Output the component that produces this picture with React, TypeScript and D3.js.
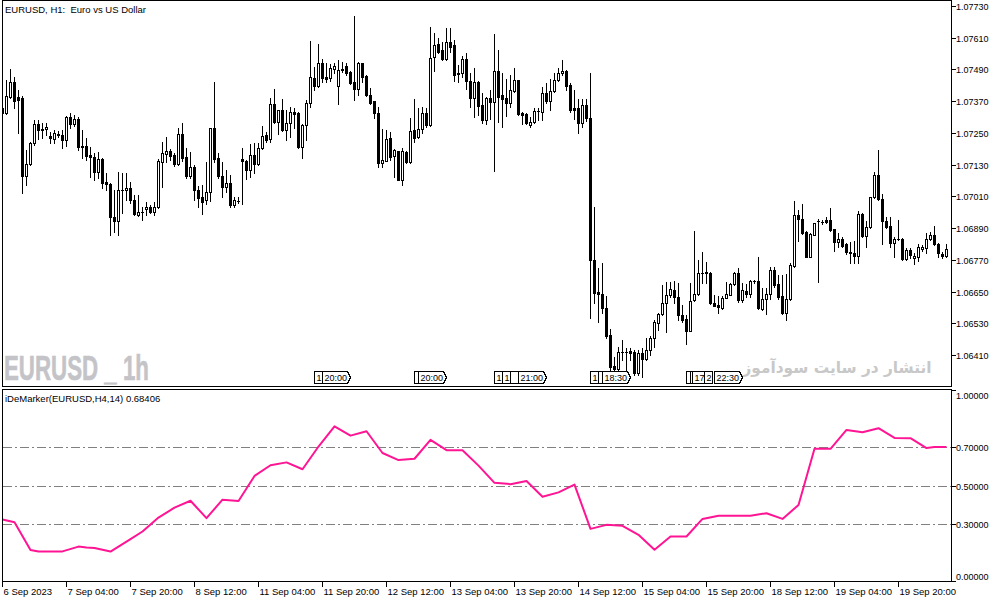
import { useRef, useEffect } from 'react';
import * as d3 from 'd3';

const W = 1003;
const H = 603;
const MAIN = { left: 2.5, right: 951.5, top: 0.5, bottom: 386.5 };
const SUB = { top: 389.5, bottom: 581.5 };
const FONT = "'Liberation Sans', Arial, sans-serif";

// EURUSD H1 candles, 6 Sep 12:00 .. 19 Sep 2023
const OPEN = [
  1.07326, 1.07326, 1.07387, 1.07443, 1.07387, 1.07383, 1.07087, 1.07133, 1.07213, 1.07284,
  1.07265, 1.07265, 1.07239, 1.07228, 1.07247, 1.07243, 1.07224, 1.07311, 1.07284, 1.07303,
  1.07198, 1.07201, 1.07167, 1.07160, 1.07102, 1.07152, 1.07065, 1.07058, 1.06933, 1.06917,
  1.07035, 1.07035, 1.07043, 1.06997, 1.06940, 1.06951, 1.06963, 1.06971, 1.06951, 1.06971,
  1.07140, 1.07171, 1.07182, 1.07167, 1.07133, 1.07247, 1.07160, 1.07087, 1.07122, 1.07035,
  1.07009, 1.06997, 1.07027, 1.07269, 1.07156, 1.07087, 1.07047, 1.07062, 1.06978, 1.06993,
  1.07152, 1.07144, 1.07110, 1.07167, 1.07133, 1.07194, 1.07243, 1.07228, 1.07360, 1.07291,
  1.07337, 1.07262, 1.07288, 1.07329, 1.07326, 1.07198, 1.07280, 1.07364, 1.07458, 1.07428,
  1.07515, 1.07462, 1.07458, 1.07492, 1.07428, 1.07492, 1.07503, 1.07480, 1.07443, 1.07417,
  1.07515, 1.07466, 1.07394, 1.07371, 1.07326, 1.07137, 1.07144, 1.07232, 1.07163, 1.07182,
  1.07073, 1.07178, 1.07140, 1.07262, 1.07236, 1.07265, 1.07326, 1.07280, 1.07538, 1.07587,
  1.07564, 1.07530, 1.07594, 1.07583, 1.07477, 1.07477, 1.07530, 1.07447, 1.07383, 1.07443,
  1.07356, 1.07299, 1.07383, 1.07368, 1.07484, 1.07394, 1.07383, 1.07364, 1.07409, 1.07451,
  1.07326, 1.07322, 1.07280, 1.07291, 1.07333, 1.07329, 1.07402, 1.07371, 1.07409, 1.07451,
  1.07477, 1.07484, 1.07432, 1.07345, 1.07345, 1.07288, 1.07356, 1.07307, 1.06770, 1.06649,
  1.06642, 1.06589, 1.06487, 1.06369, 1.06358, 1.06422, 1.06422, 1.06426, 1.06422, 1.06343,
  1.06419, 1.06396, 1.06430, 1.06476, 1.06532, 1.06566, 1.06608, 1.06638, 1.06657, 1.06631,
  1.06562, 1.06547, 1.06502, 1.06619, 1.06642, 1.06721, 1.06721, 1.06721, 1.06608, 1.06600,
  1.06589, 1.06627, 1.06638, 1.06680, 1.06721, 1.06619, 1.06653, 1.06642, 1.06691, 1.06691,
  1.06585, 1.06623, 1.06642, 1.06732, 1.06680, 1.06634, 1.06570, 1.06623, 1.06747, 1.06940,
  1.06925, 1.06876, 1.06782, 1.06865, 1.06917, 1.06913, 1.06921, 1.06921, 1.06887, 1.06838,
  1.06850, 1.06831, 1.06800, 1.06797, 1.06785, 1.06944, 1.06861, 1.06895, 1.07009, 1.07091,
  1.07001, 1.06917, 1.06899, 1.06835, 1.06850, 1.06850, 1.06774, 1.06808, 1.06778, 1.06782,
  1.06812, 1.06816, 1.06850, 1.06865, 1.06831, 1.06793, 1.06785,
];
const HIGH = [
  1.07356, 1.07451, 1.07492, 1.07462, 1.07413, 1.07390, 1.07186, 1.07216, 1.07299, 1.07299,
  1.07288, 1.07288, 1.07254, 1.07262, 1.07258, 1.07262, 1.07314, 1.07326, 1.07318, 1.07311,
  1.07262, 1.07232, 1.07198, 1.07175, 1.07178, 1.07156, 1.07099, 1.07062, 1.07035, 1.07102,
  1.07099, 1.07099, 1.07065, 1.07016, 1.07016, 1.06971, 1.06989, 1.06978, 1.06989, 1.07152,
  1.07216, 1.07236, 1.07190, 1.07175, 1.07269, 1.07288, 1.07194, 1.07178, 1.07129, 1.07050,
  1.07054, 1.07140, 1.07269, 1.07443, 1.07175, 1.07140, 1.07110, 1.07091, 1.07009, 1.07009,
  1.07194, 1.07148, 1.07209, 1.07213, 1.07213, 1.07276, 1.07254, 1.07383, 1.07417, 1.07337,
  1.07379, 1.07337, 1.07349, 1.07345, 1.07329, 1.07284, 1.07375, 1.07598, 1.07500, 1.07587,
  1.07530, 1.07515, 1.07511, 1.07515, 1.07526, 1.07518, 1.07515, 1.07484, 1.07692, 1.07518,
  1.07515, 1.07469, 1.07421, 1.07371, 1.07349, 1.07265, 1.07262, 1.07254, 1.07190, 1.07182,
  1.07194, 1.07182, 1.07307, 1.07379, 1.07345, 1.07349, 1.07345, 1.07651, 1.07629, 1.07610,
  1.07594, 1.07647, 1.07647, 1.07602, 1.07507, 1.07541, 1.07553, 1.07477, 1.07496, 1.07447,
  1.07402, 1.07387, 1.07413, 1.07625, 1.07564, 1.07477, 1.07454, 1.07469, 1.07496, 1.07451,
  1.07329, 1.07326, 1.07311, 1.07345, 1.07345, 1.07425, 1.07440, 1.07454, 1.07477, 1.07496,
  1.07526, 1.07488, 1.07440, 1.07413, 1.07379, 1.07379, 1.07379, 1.07477, 1.06971, 1.06740,
  1.06759, 1.06634, 1.06509, 1.06404, 1.06442, 1.06468, 1.06438, 1.06438, 1.06430, 1.06430,
  1.06438, 1.06476, 1.06480, 1.06543, 1.06570, 1.06676, 1.06687, 1.06687, 1.06691, 1.06684,
  1.06600, 1.06562, 1.06684, 1.06880, 1.06770, 1.06800, 1.06762, 1.06725, 1.06638, 1.06634,
  1.06634, 1.06687, 1.06684, 1.06725, 1.06740, 1.06684, 1.06680, 1.06695, 1.06695, 1.06782,
  1.06665, 1.06665, 1.06744, 1.06744, 1.06714, 1.06714, 1.06717, 1.06759, 1.06993, 1.06959,
  1.06982, 1.06880, 1.06873, 1.06910, 1.06925, 1.06921, 1.06933, 1.06967, 1.06887, 1.06873,
  1.06857, 1.06835, 1.06838, 1.06842, 1.06955, 1.06948, 1.06917, 1.07009, 1.07102, 1.07186,
  1.07020, 1.06933, 1.06933, 1.06857, 1.06921, 1.06853, 1.06816, 1.06816, 1.06797, 1.06831,
  1.06827, 1.06873, 1.06876, 1.06899, 1.06835, 1.06800, 1.06831,
];
const LOW = [
  1.07318, 1.07322, 1.07383, 1.07345, 1.07251, 1.07024, 1.07054, 1.07129, 1.07205, 1.07228,
  1.07232, 1.07243, 1.07213, 1.07213, 1.07236, 1.07194, 1.07201, 1.07269, 1.07276, 1.07186,
  1.07156, 1.07148, 1.07084, 1.07073, 1.07080, 1.07043, 1.07035, 1.06865, 1.06876, 1.06865,
  1.06948, 1.06997, 1.06986, 1.06940, 1.06936, 1.06921, 1.06940, 1.06948, 1.06940, 1.06967,
  1.07047, 1.07140, 1.07148, 1.07125, 1.07129, 1.07144, 1.07080, 1.07080, 1.06997, 1.06971,
  1.06944, 1.06982, 1.06993, 1.07140, 1.07080, 1.07009, 1.07027, 1.06971, 1.06971, 1.06986,
  1.06982, 1.07076, 1.07084, 1.07099, 1.07129, 1.07190, 1.07216, 1.07216, 1.07288, 1.07247,
  1.07258, 1.07224, 1.07236, 1.07269, 1.07194, 1.07156, 1.07224, 1.07349, 1.07413, 1.07425,
  1.07443, 1.07443, 1.07447, 1.07477, 1.07360, 1.07480, 1.07469, 1.07436, 1.07375, 1.07394,
  1.07443, 1.07390, 1.07360, 1.07307, 1.07122, 1.07122, 1.07144, 1.07148, 1.07084, 1.07073,
  1.07054, 1.07137, 1.07137, 1.07216, 1.07232, 1.07251, 1.07273, 1.07276, 1.07484, 1.07553,
  1.07526, 1.07526, 1.07556, 1.07447, 1.07443, 1.07462, 1.07417, 1.07349, 1.07311, 1.07318,
  1.07288, 1.07284, 1.07303, 1.07106, 1.07291, 1.07273, 1.07314, 1.07349, 1.07405, 1.07318,
  1.07284, 1.07284, 1.07273, 1.07288, 1.07299, 1.07299, 1.07364, 1.07337, 1.07405, 1.07447,
  1.07469, 1.07413, 1.07329, 1.07303, 1.07251, 1.07273, 1.07295, 1.06551, 1.06608, 1.06535,
  1.06570, 1.06476, 1.06346, 1.06346, 1.06354, 1.06392, 1.06354, 1.06392, 1.06335, 1.06335,
  1.06328, 1.06392, 1.06411, 1.06442, 1.06506, 1.06562, 1.06498, 1.06631, 1.06608, 1.06543,
  1.06535, 1.06453, 1.06502, 1.06615, 1.06638, 1.06684, 1.06684, 1.06604, 1.06596, 1.06570,
  1.06585, 1.06627, 1.06638, 1.06676, 1.06612, 1.06612, 1.06631, 1.06631, 1.06684, 1.06585,
  1.06581, 1.06566, 1.06623, 1.06668, 1.06623, 1.06566, 1.06543, 1.06619, 1.06744, 1.06842,
  1.06869, 1.06782, 1.06782, 1.06865, 1.06687, 1.06906, 1.06910, 1.06880, 1.06804, 1.06820,
  1.06820, 1.06793, 1.06759, 1.06759, 1.06759, 1.06857, 1.06820, 1.06891, 1.07005, 1.06997,
  1.06831, 1.06891, 1.06820, 1.06782, 1.06846, 1.06770, 1.06770, 1.06778, 1.06755, 1.06766,
  1.06804, 1.06797, 1.06846, 1.06827, 1.06782, 1.06778, 1.06782,
];
const CLOSE = [
  1.07345, 1.07390, 1.07443, 1.07371, 1.07375, 1.07087, 1.07133, 1.07213, 1.07284, 1.07262,
  1.07262, 1.07273, 1.07232, 1.07251, 1.07243, 1.07224, 1.07311, 1.07284, 1.07303, 1.07198,
  1.07201, 1.07163, 1.07160, 1.07102, 1.07152, 1.07062, 1.07058, 1.06933, 1.06917, 1.07035,
  1.07035, 1.07043, 1.06997, 1.06944, 1.06951, 1.06951, 1.06971, 1.06951, 1.06971, 1.07144,
  1.07175, 1.07182, 1.07163, 1.07133, 1.07247, 1.07156, 1.07087, 1.07122, 1.07035, 1.07005,
  1.06989, 1.07027, 1.07269, 1.07152, 1.07087, 1.07047, 1.07062, 1.06978, 1.06997, 1.06993,
  1.07144, 1.07110, 1.07167, 1.07133, 1.07194, 1.07239, 1.07224, 1.07360, 1.07291, 1.07337,
  1.07262, 1.07288, 1.07329, 1.07322, 1.07198, 1.07280, 1.07364, 1.07462, 1.07428, 1.07515,
  1.07458, 1.07454, 1.07496, 1.07503, 1.07488, 1.07488, 1.07477, 1.07440, 1.07417, 1.07515,
  1.07462, 1.07394, 1.07364, 1.07326, 1.07137, 1.07148, 1.07228, 1.07160, 1.07186, 1.07073,
  1.07182, 1.07140, 1.07258, 1.07232, 1.07265, 1.07326, 1.07280, 1.07534, 1.07583, 1.07556,
  1.07530, 1.07594, 1.07576, 1.07469, 1.07473, 1.07530, 1.07447, 1.07383, 1.07443, 1.07353,
  1.07299, 1.07383, 1.07368, 1.07484, 1.07387, 1.07379, 1.07364, 1.07413, 1.07451, 1.07322,
  1.07318, 1.07288, 1.07291, 1.07333, 1.07333, 1.07402, 1.07371, 1.07409, 1.07451, 1.07477,
  1.07484, 1.07428, 1.07337, 1.07337, 1.07288, 1.07356, 1.07307, 1.06770, 1.06646, 1.06642,
  1.06589, 1.06483, 1.06366, 1.06358, 1.06422, 1.06422, 1.06422, 1.06419, 1.06343, 1.06419,
  1.06396, 1.06430, 1.06476, 1.06535, 1.06566, 1.06608, 1.06638, 1.06661, 1.06631, 1.06562,
  1.06543, 1.06502, 1.06615, 1.06642, 1.06721, 1.06721, 1.06725, 1.06608, 1.06596, 1.06593,
  1.06627, 1.06642, 1.06680, 1.06721, 1.06619, 1.06657, 1.06642, 1.06691, 1.06691, 1.06589,
  1.06623, 1.06642, 1.06732, 1.06676, 1.06631, 1.06570, 1.06623, 1.06751, 1.06940, 1.06925,
  1.06873, 1.06782, 1.06869, 1.06910, 1.06917, 1.06913, 1.06913, 1.06884, 1.06838, 1.06850,
  1.06823, 1.06800, 1.06797, 1.06785, 1.06944, 1.06861, 1.06895, 1.07009, 1.07091, 1.07001,
  1.06917, 1.06895, 1.06835, 1.06850, 1.06850, 1.06774, 1.06808, 1.06789, 1.06785, 1.06820,
  1.06820, 1.06850, 1.06865, 1.06831, 1.06797, 1.06785, 1.06812,
];

// DeMarker (H4, 14) drawn on the H1 bars: bar index -> value
const DEM_BARS = [
  0, 3, 7, 9, 15, 19, 21, 23, 27, 32, 35, 39, 43, 47, 51, 55, 59, 63, 67, 71,
  75, 79, 83, 87, 91, 95, 99, 103, 107, 111, 115, 119, 123, 127, 131, 135, 139, 143, 147, 151,
  155, 159, 163, 167, 171, 175, 179, 187, 191, 195, 199, 203, 207, 211, 215, 219, 223, 227, 231, 233, 236,
];
const DEM_VALUES = [
  0.322, 0.308, 0.162, 0.155, 0.155, 0.180, 0.176, 0.173, 0.154, 0.219,
  0.259, 0.332, 0.384, 0.420, 0.329, 0.426, 0.419, 0.550, 0.606, 0.621,
  0.585, 0.704, 0.810, 0.761, 0.784, 0.670, 0.633, 0.640, 0.739, 0.685,
  0.685, 0.604, 0.514, 0.507, 0.524, 0.441, 0.464, 0.505, 0.273, 0.294,
  0.289, 0.242, 0.164, 0.233, 0.233, 0.325, 0.342, 0.342, 0.355, 0.325,
  0.398, 0.692, 0.692, 0.791, 0.779, 0.800, 0.749, 0.748, 0.696, 0.701, 0.701,
];

const PRICE_TICKS = [
  1.0773, 1.0761, 1.0749, 1.0737, 1.0725, 1.0713, 1.0701, 1.0689, 1.0677, 1.0665, 1.0653, 1.0641,
];
const DEM_TICKS = [1, 0.7, 0.5, 0.3, 0];
const DEM_LEVELS = [0.7, 0.5, 0.3];

const TIME_BARS = [0, 16, 32, 48, 64, 80, 96, 112, 128, 144, 160, 176, 192, 208, 224];
const TIME_LABELS = [
  '6 Sep 2023', '7 Sep 04:00', '7 Sep 20:00', '8 Sep 12:00', '11 Sep 04:00',
  '11 Sep 20:00', '12 Sep 12:00', '13 Sep 04:00', '13 Sep 20:00', '14 Sep 12:00',
  '15 Sep 04:00', '15 Sep 20:00', '18 Sep 12:00', '19 Sep 04:00', '19 Sep 20:00',
];

// small history labels along the bottom of the price window
// (an empty text is a label hidden under the next one)
const MARK_BARS = [78.5, 80.4, 103.45, 104.45, 123.45, 125.55, 127.5, 129.4, 147.4, 149.45, 150.55, 171.4, 172.4, 173.1, 175.9, 178.4];
const MARK_TEXTS = ['1', '20:00', '', '20:00', '1', '1', '', '21:00', '1', '', '18:30', '', '', '17', '2', '22:30'];

export default function App() {
  const svgRef = useRef<SVGSVGElement>(null);

  useEffect(() => {
    if (!svgRef.current) return;
    const svg = d3.select(svgRef.current);
    svg.selectAll('*').remove();

    const x = d3.scaleLinear().domain([0, 236]).range([2.5, 946.5]);
    const y = d3.scaleLinear().domain([1.0641, 1.0773]).range([355, 6]);
    const yd = d3.scaleLinear().domain([0, 1]).range([581, 390]);

    svg.append('rect').attr('width', W).attr('height', H).attr('fill', '#fff');

    svg.append('clipPath').attr('id', 'mainClip')
      .append('rect')
      .attr('x', MAIN.left).attr('y', MAIN.top)
      .attr('width', MAIN.right - MAIN.left).attr('height', MAIN.bottom - MAIN.top);
    svg.append('clipPath').attr('id', 'subClip')
      .append('rect')
      .attr('x', MAIN.left).attr('y', SUB.top)
      .attr('width', MAIN.right - MAIN.left).attr('height', SUB.bottom - SUB.top);

    // watermarks
    svg.append('text')
      .attr('x', 4).attr('y', 380)
      .attr('font-family', "'Liberation Sans Narrow', 'Liberation Sans', sans-serif")
      .attr('font-weight', 'bold').attr('font-size', 35)
      .attr('fill', '#c4c4c8')
      .attr('stroke', '#c4c4c8').attr('stroke-width', 0.6)
      .attr('textLength', 145).attr('lengthAdjust', 'spacingAndGlyphs')
      .style('white-space', 'pre')
      .text('EURUSD _ 1h');
    svg.append('text')
      .attr('x', 837).attr('y', 373)
      .attr('text-anchor', 'middle')
      .attr('font-family', "'DejaVu Sans', sans-serif")
      .attr('font-weight', 'bold').attr('font-size', 16)
      .attr('fill', '#c8c8c8')
      .attr('textLength', 189).attr('lengthAdjust', 'spacingAndGlyphs')
      .text('انتشار در سایت سودآموز');

    // candles
    const cg = svg.append('g').attr('clip-path', 'url(#mainClip)').attr('shape-rendering', 'crispEdges');
    OPEN.forEach((o, i) => {
      const c = CLOSE[i];
      const cx = x(i);
      const yh = Math.round(y(HIGH[i]));
      const yl = Math.round(y(LOW[i]));
      cg.append('line')
        .attr('x1', cx).attr('x2', cx)
        .attr('y1', yh).attr('y2', yl + 1)
        .attr('stroke', '#000').attr('stroke-width', 1);
      const yTop = Math.round(y(Math.max(o, c)));
      const yBot = Math.round(y(Math.min(o, c)));
      if (c < o || yBot - yTop < 2) {
        cg.append('rect')
          .attr('x', cx - 1.5).attr('y', yTop)
          .attr('width', 3).attr('height', yBot - yTop + 1)
          .attr('fill', '#000');
      } else {
        cg.append('rect')
          .attr('x', cx - 1).attr('y', yTop + 0.5)
          .attr('width', 2).attr('height', yBot - yTop)
          .attr('fill', '#fff').attr('stroke', '#000').attr('stroke-width', 1);
      }
    });

    // history labels
    const mg = svg.append('g').attr('shape-rendering', 'crispEdges');
    MARK_BARS.forEach((b, i) => {
      const t = MARK_TEXTS[i];
      const left = Math.round(x(b) - 2.5) + 0.5;
      const isTime = t.includes(':');
      const w = isTime ? t.length * 5 : Math.max(1, t.length) * 5 + 3;
      const top = 371.5;
      const bot = 383.5;
      const d = isTime
        ? `M${left},${top}H${left + w}L${left + w + 3},${(top + bot) / 2}L${left + w},${bot}H${left}Z`
        : `M${left},${top}H${left + w}V${bot}H${left}Z`;
      mg.append('path').attr('d', d).attr('fill', '#fff').attr('stroke', '#000').attr('stroke-width', 1);
      if (t) {
        mg.append('text')
          .attr('x', left + 2).attr('y', 381)
          .attr('font-family', FONT).attr('font-size', 9).attr('fill', '#000')
          .text(t);
      }
    });

    // DeMarker level lines
    const sg = svg.append('g').attr('clip-path', 'url(#subClip)');
    DEM_LEVELS.forEach((lv) => {
      const yy = Math.round(yd(lv)) + 0.5;
      sg.append('line')
        .attr('x1', MAIN.left).attr('x2', MAIN.right)
        .attr('y1', yy).attr('y2', yy)
        .attr('stroke', '#808080').attr('stroke-width', 1)
        .attr('stroke-dasharray', '9,3,2,3')
        .attr('shape-rendering', 'crispEdges');
    });

    const line = d3.line<number>()
      .x((_, i) => x(DEM_BARS[i]))
      .y((d) => yd(d));
    sg.append('path')
      .datum(DEM_VALUES)
      .attr('fill', 'none')
      .attr('stroke', '#ff1493')
      .attr('stroke-width', 2)
      .attr('stroke-linejoin', 'round')
      .attr('d', line);

    // frames
    svg.append('rect')
      .attr('x', MAIN.left).attr('y', MAIN.top)
      .attr('width', MAIN.right - MAIN.left).attr('height', MAIN.bottom - MAIN.top)
      .attr('fill', 'none').attr('stroke', '#000').attr('shape-rendering', 'crispEdges');
    svg.append('rect')
      .attr('x', MAIN.left).attr('y', SUB.top)
      .attr('width', MAIN.right - MAIN.left).attr('height', SUB.bottom - SUB.top)
      .attr('fill', 'none').attr('stroke', '#000').attr('shape-rendering', 'crispEdges');

    // price axis
    const ag = svg.append('g').attr('font-family', FONT).attr('font-size', 9).attr('fill', '#000');
    PRICE_TICKS.forEach((p) => {
      const yy = Math.round(y(p)) + 0.5;
      ag.append('line')
        .attr('x1', MAIN.right).attr('x2', MAIN.right + 4)
        .attr('y1', yy).attr('y2', yy)
        .attr('stroke', '#000').attr('shape-rendering', 'crispEdges');
      ag.append('text').attr('x', 956).attr('y', yy + 3.5).text(p.toFixed(5));
    });

    // DeMarker axis
    DEM_TICKS.forEach((v) => {
      const yy = Math.round(yd(v)) + 0.5;
      ag.append('line')
        .attr('x1', MAIN.right).attr('x2', MAIN.right + 4)
        .attr('y1', yy).attr('y2', yy)
        .attr('stroke', '#000').attr('shape-rendering', 'crispEdges');
      const ty = Math.min(Math.max(yy, 395), 576);
      ag.append('text').attr('x', 956).attr('y', ty + 3.5).text(v.toFixed(5));
    });

    // time axis
    TIME_BARS.forEach((b, i) => {
      const xx = Math.round(x(b) - 0.5) + 0.5;
      ag.append('line')
        .attr('x1', xx).attr('x2', xx)
        .attr('y1', SUB.bottom).attr('y2', SUB.bottom + 5)
        .attr('stroke', '#000').attr('shape-rendering', 'crispEdges');
      ag.append('text').attr('x', xx + 1).attr('y', 595).attr('font-size', 9.5).text(TIME_LABELS[i]);
    });

    // window captions
    svg.append('text')
      .attr('x', 5).attr('y', 13)
      .attr('font-family', FONT).attr('font-size', 9.5)
      .style('white-space', 'pre')
      .text('EURUSD, H1:  Euro vs US Dollar');
    svg.append('text')
      .attr('x', 5).attr('y', 402)
      .attr('font-family', FONT).attr('font-size', 9.5)
      .text('iDeMarker(EURUSD,H4,14) 0.68406');
  }, []);

  return (
    <svg
      ref={svgRef}
      width={W}
      height={H}
      viewBox={`0 0 ${W} ${H}`}
      style={{ position: 'absolute', left: 0, top: 0, display: 'block' }}
    />
  );
}
